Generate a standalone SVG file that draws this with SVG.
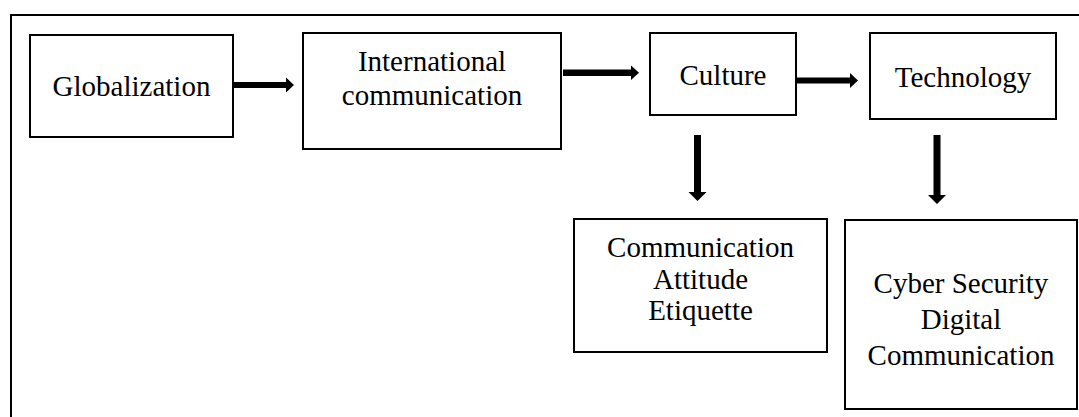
<svg xmlns="http://www.w3.org/2000/svg" width="1079" height="417" viewBox="0 0 1079 417">
<style>
.box{fill:#fff;stroke:#000;stroke-width:2}
.t{font-family:"Liberation Serif","Times New Roman",serif;font-size:29px;fill:#000;text-anchor:middle}
.ar{fill:#000;stroke:none}
</style>
<rect x="0" y="0" width="1079" height="417" fill="#fff"/>
<path d="M11,418 V15 H1080" fill="none" stroke="#000" stroke-width="2"/>
<g id="globalization"><rect class="box" x="30" y="35" width="203" height="102"/><text class="t" x="131.5" y="96">Globalization</text></g>
<g id="intl"><rect class="box" x="303" y="33" width="258" height="116"/><text class="t" x="432" y="71">International</text><text class="t" x="432" y="105">communication</text></g>
<g id="culture"><rect class="box" x="650" y="33" width="146" height="82"/><text class="t" x="723" y="85">Culture</text></g>
<g id="technology"><rect class="box" x="870" y="33" width="186" height="86"/><text class="t" x="963" y="87">Technology</text></g>
<g id="commbox"><rect class="box" x="574" y="219" width="253" height="133"/><text class="t" x="700.5" y="257">Communication</text><text class="t" x="700.5" y="289">Attitude</text><text class="t" x="700.5" y="320">Etiquette</text></g>
<g id="cyberbox"><rect class="box" x="845" y="220" width="232" height="189"/><text class="t" x="961" y="293">Cyber Security</text><text class="t" x="961" y="329">Digital</text><text class="t" x="961" y="365">Communication</text></g>
<g id="connectors">
<path class="ar" d="M234,82 H286 V77.5 L294,85 L286,92.5 V88 H234 Z"/>
<path class="ar" d="M563,69.5 H631 V65.5 L639,72.7 L631,80 V76 H563 Z"/>
<path class="ar" d="M797,77.5 H850 V73 L858,80.5 L850,88 V83.5 H797 Z"/>
<path class="ar" d="M694,135 H701 V192 H706.5 L697.5,201 L688.5,192 H694 Z"/>
<path class="ar" d="M933.5,135 H940.5 V195 H946 L937,204 L928,195 H933.5 Z"/>
</g>
</svg>
